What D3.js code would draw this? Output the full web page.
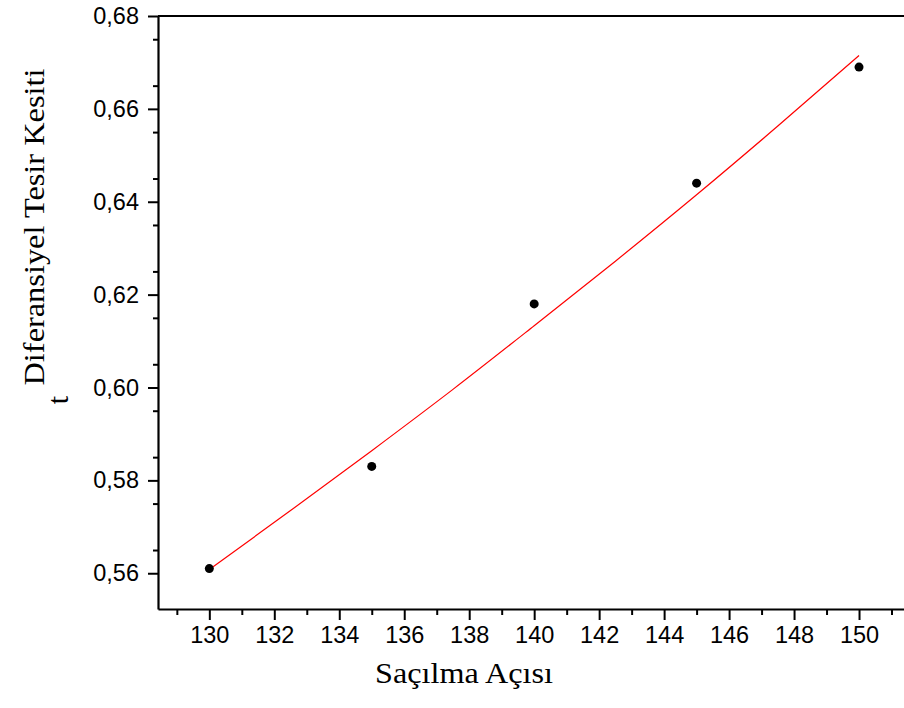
<!DOCTYPE html>
<html>
<head>
<meta charset="utf-8">
<script src="https://cdn.jsdelivr.net/npm/d3@7"></script>
<style>
  body { margin: 0; background: #fff; }
  svg { display: block; }
  .axis path, .axis line { stroke: #000; }
  .axis text { font-family: "Liberation Sans", Arial, sans-serif; font-size: 23.5px; fill: #000; }
  .axisTitle { font-family: "Liberation Serif", "Times New Roman", serif; font-size: 30px; fill: #000; }
</style>
</head>
<body>
<div id="chart"></div>
<script>
// Data
var angles = [130, 135, 140, 145, 150];
var crossSection = [0.561, 0.583, 0.618, 0.644, 0.669];

// fit curve (red), read at a few angles
var fitAngles = [130, 132.5, 135, 137.5, 140, 142.5, 145, 147.5, 150];
var fitValues = [0.5608, 0.5735, 0.5864, 0.5996, 0.6133, 0.6272, 0.6415, 0.6563, 0.6715];

var xMajor = [130, 132, 134, 136, 138, 140, 142, 144, 146, 148, 150];
var xMinor = [129, 131, 133, 135, 137, 139, 141, 143, 145, 147, 149, 151];
var yMajor = [0.56, 0.58, 0.60, 0.62, 0.64, 0.66, 0.68];
var yMinor = [0.565, 0.575, 0.585, 0.595, 0.605, 0.615, 0.625, 0.635, 0.645, 0.655, 0.665, 0.675];

var svgWidth = 904;
var svgHeight = 708;

var plotLeft = 158, plotTop = 16, plotBottom = 609;

var svg = d3.select("#chart")
  .append("svg")
  .attr("width", svgWidth)
  .attr("height", svgHeight);

// x: 130 -> 209.3px, 150 -> 859px ; frame runs past the right edge
var xScale = d3.scaleLinear()
  .domain([128.42, 152.5])
  .range([plotLeft, plotLeft + (152.5 - 128.42) * 32.485]);

var yScale = d3.scaleLinear()
  .domain([0.5523, 0.68])
  .range([plotBottom, plotTop]);

var locale = d3.formatLocale({ decimal: ",", thousands: ".", grouping: [3], currency: ["", ""] });
var yFmt = locale.format(".2f");

// minor ticks
svg.append("g")
  .attr("class", "axis")
  .attr("transform", `translate(0, ${plotBottom})`)
  .call(d3.axisBottom(xScale).tickValues(xMinor).tickSize(6).tickFormat(""))
  .call(g => g.select(".domain").remove())
  .selectAll("line").attr("stroke-width", 2);

svg.append("g")
  .attr("class", "axis")
  .attr("transform", `translate(${plotLeft}, 0)`)
  .call(d3.axisLeft(yScale).tickValues(yMinor).tickSize(5).tickFormat(""))
  .call(g => g.select(".domain").remove())
  .selectAll("line").attr("stroke-width", 2);

// major ticks
var xAxis = svg.append("g")
  .attr("class", "axis")
  .attr("transform", `translate(0, ${plotBottom})`)
  .call(d3.axisBottom(xScale).tickValues(xMajor).tickSize(11).tickPadding(6).tickSizeOuter(0));
xAxis.selectAll("line").attr("stroke-width", 2);
xAxis.select(".domain").attr("stroke-width", 2.2);

var yAxis = svg.append("g")
  .attr("class", "axis")
  .attr("transform", `translate(${plotLeft}, 0)`)
  .call(d3.axisLeft(yScale).tickValues(yMajor).tickSize(10).tickPadding(9).tickSizeOuter(0).tickFormat(yFmt));
yAxis.selectAll("line").attr("stroke-width", 2);
yAxis.select(".domain").attr("stroke-width", 2.2);

// top frame line
svg.append("line")
  .attr("x1", plotLeft).attr("x2", xScale.range()[1])
  .attr("y1", plotTop).attr("y2", plotTop)
  .attr("stroke", "#000")
  .attr("stroke-width", 2.2);

// fit line
var fitLine = d3.line()
  .x((d, i) => xScale(fitAngles[i]))
  .y(d => yScale(d))
  .curve(d3.curveMonotoneX);

svg.append("path")
  .datum(fitValues)
  .attr("d", fitLine)
  .attr("fill", "none")
  .attr("stroke", "#ff0000")
  .attr("stroke-width", 1.2);

// points
svg.selectAll("circle.pt")
  .data(crossSection)
  .enter()
  .append("circle")
  .attr("class", "pt")
  .attr("cx", (d, i) => xScale(angles[i]))
  .attr("cy", d => yScale(d))
  .attr("r", 4.5)
  .attr("fill", "#000");

// axis titles
svg.append("text")
  .attr("class", "axisTitle")
  .attr("transform", "translate(44, 227) rotate(-90)")
  .attr("text-anchor", "middle")
  .attr("textLength", 317)
  .attr("lengthAdjust", "spacingAndGlyphs")
  .text("Diferansiyel Tesir Kesiti");

svg.append("text")
  .attr("class", "axisTitle")
  .attr("transform", "translate(68, 400) rotate(-90)")
  .attr("text-anchor", "middle")
  .text("t");

svg.append("text")
  .attr("class", "axisTitle")
  .attr("x", 464)
  .attr("y", 683)
  .attr("text-anchor", "middle")
  .attr("textLength", 178)
  .attr("lengthAdjust", "spacingAndGlyphs")
  .text("Saçılma Açısı");
</script>
</body>
</html>
